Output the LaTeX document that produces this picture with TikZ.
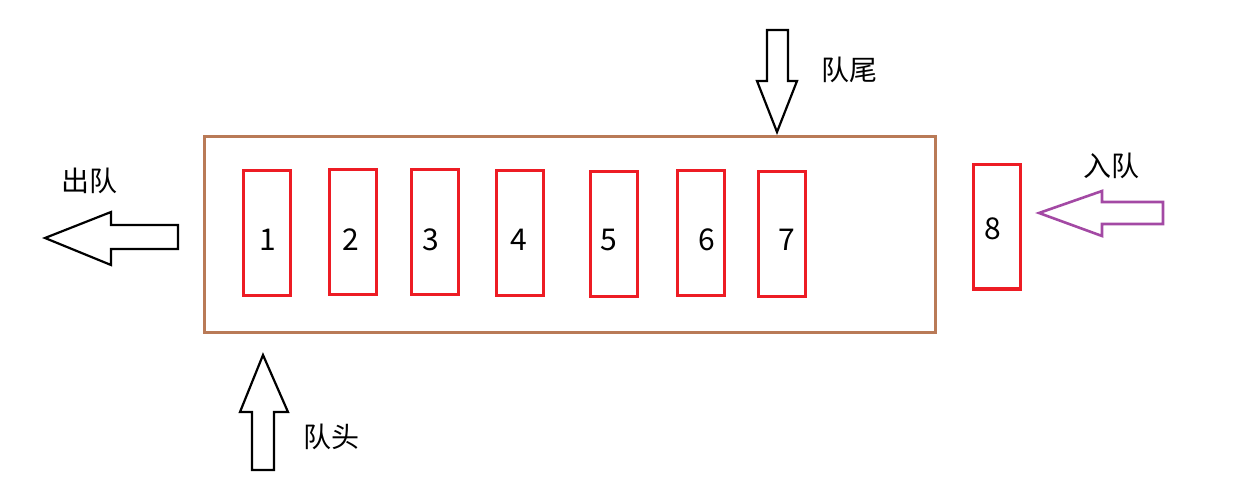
\documentclass[tikz,border=0pt]{standalone}
\usepackage{fontspec}
\setmainfont{Noto Sans CJK SC}
\begin{document}
\begin{tikzpicture}[x=0.5pt,y=-0.5pt,
  cell/.style={draw=cellred,line width=1.5pt,rectangle},
  outline/.style={draw=black,line width=1.1pt,line join=miter},
  lbl/.style={font=\fontsize{14}{16}\selectfont,inner sep=0pt},
  num/.style={font=\fontsize{15}{17}\selectfont,inner sep=0pt}]
\definecolor{cellred}{HTML}{ED1C24}
\definecolor{boxbrown}{HTML}{B97A57}
\definecolor{inpurple}{HTML}{A349A4}
\useasboundingbox (0,0) rectangle (1234,496);
% queue container
\draw[draw=boxbrown,line width=1.5pt] (204,137) rectangle (935,332);
% cells
\foreach \n/\xa/\ya/\tx/\ty in {1/243/171/268/240, 2/329/170/351/240, 3/411/170/431/240, 4/496/171/519/240, 5/590/172/609/240, 6/677/171/707/240, 7/758/172/787/240, 8/973/165/993/229}{
  \draw[cell] (\xa,\ya) rectangle ++(47,124);
  \node[num] (c\n) at (\tx,\ty) {\n};
}
% dequeue arrow (left)
\draw[outline] (45,238) -- (111,212) -- (111,225) -- (178,225) -- (178,249) -- (111,249) -- (111,265) -- cycle;
\node[lbl] (deq) at (89,181) {出队};
% tail arrow (down)
\draw[outline] (777,132) -- (757,81) -- (767,81) -- (767,30) -- (788,30) -- (788,81) -- (797,81) -- cycle;
\node[lbl] (tail) at (849,70) {队尾};
% enqueue arrow (purple)
\draw[outline,draw=inpurple,line width=1.3pt] (1039,213) -- (1102,191) -- (1102,202) -- (1163,202) -- (1163,224) -- (1102,224) -- (1102,236) -- cycle;
\node[lbl] (enq) at (1111,166) {入队};
% head arrow (up)
\draw[outline] (263,355) -- (288,412) -- (274,412) -- (274,470) -- (252,470) -- (252,412) -- (240,412) -- cycle;
\node[lbl] (head) at (331,437) {队头};
\end{tikzpicture}
\end{document}
